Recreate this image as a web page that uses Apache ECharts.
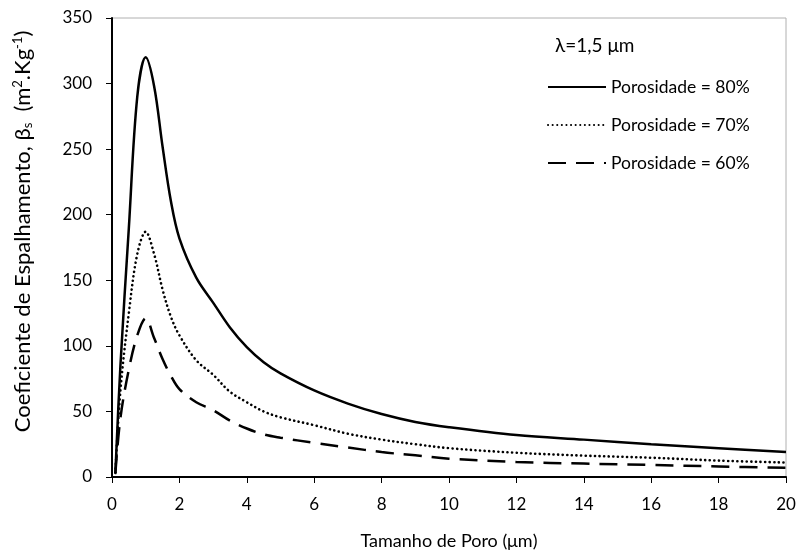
<!DOCTYPE html>
<html>
<head>
<meta charset="utf-8">
<script src="https://cdn.jsdelivr.net/npm/echarts@6/dist/echarts.min.js"></script>
<style>html,body{margin:0;padding:0;background:#fff;}#c{width:802px;height:560px;}</style>
</head>
<body>
<div id="c"></div>
<script>
var poreSize = [0.1, 0.25, 0.5, 0.75, 1, 1.25, 1.5, 1.75, 2, 2.5, 3, 3.5, 4, 4.5, 5, 6, 7, 8, 9, 10, 12, 14, 16, 18, 20];
var poro80 = [3, 85, 190, 290, 320, 298, 252, 210, 182, 152, 133, 114, 99, 87.5, 79, 66, 56, 48, 42, 38, 32, 28.5, 25, 22, 19];
var poro70 = [3, 66, 125, 170, 187, 170, 143, 122, 108, 89, 78, 65, 57, 50, 45.5, 39.5, 33, 28.5, 25, 22, 18.5, 16.3, 14.7, 12.5, 11];
var poro60 = [3, 45, 82, 108, 121, 106, 90, 77, 67, 57, 51, 43, 37, 32.5, 30, 26, 22.5, 19, 16.5, 14, 11.5, 10.2, 9.2, 8, 7];
var seriesNames = ['Porosidade = 80%', 'Porosidade = 70%', 'Porosidade = 60%'];
var xTicks = [0, 2, 4, 6, 8, 10, 12, 14, 16, 18, 20];
var yTicks = [0, 50, 100, 150, 200, 250, 300, 350];

function pairs(ys) { return poreSize.map(function (x, i) { return [x, ys[i]]; }); }
var FONT = 'Lato';
var chart = echarts.init(document.getElementById('c'), null, { renderer: 'canvas' });
var dashTypes = ['solid', [0.1, 4.5], [18, 10]];
var caps = ['butt', 'round', 'butt'];
var allData = [poro80, poro70, poro60];
chart.setOption({
  animation: false,
  textStyle: { fontFamily: FONT },
  grid: { left: 112, right: 16, top: 18, bottom: 83, show: true, borderColor: '#b0b0b0', borderWidth: 1, backgroundColor: 'transparent' },
  title: {
    text: 'λ=1,5 μm', left: 550, top: 31,
    textStyle: { fontFamily: FONT, fontSize: 19, fontWeight: 'normal', color: '#000' }
  },
  legend: {
    orient: 'vertical', left: 542, top: 73, itemWidth: 58, itemHeight: 14, itemGap: 20,
    data: seriesNames,
    itemStyle: { opacity: 0 },
    textStyle: { fontFamily: FONT, fontSize: 17.5, color: '#000', padding: [0, 0, 0, 0] }
  },
  xAxis: {
    type: 'value', min: xTicks[0], max: xTicks[xTicks.length - 1], interval: 2,
    name: 'Tamanho de Poro (μm)', nameLocation: 'middle', nameGap: 55,
    nameTextStyle: { fontFamily: FONT, fontSize: 18, color: '#000' },
    axisLine: { lineStyle: { color: '#000', width: 2 } },
    axisTick: { show: true, length: 6, lineStyle: { color: '#000', width: 1 } },
    axisLabel: { fontFamily: FONT, fontSize: 17, color: '#000', margin: 19 },
    splitLine: { show: false }
  },
  yAxis: {
    type: 'value', min: yTicks[0], max: yTicks[yTicks.length - 1], interval: 50,
    name: '{a|Coeficiente de Espalhamento, β}{s|s}{a|  (m}{p|2}{a|.Kg}{p|-1}{a|)}',
    nameLocation: 'middle', nameGap: 78,
    nameTextStyle: {
      fontFamily: FONT, color: '#000', padding: [0, 0, 0, 32],
      rich: {
        a: { fontFamily: FONT, fontSize: 22, color: '#000' },
        s: { fontFamily: FONT, fontSize: 13, color: '#000', padding: [10, 0, 0, 0] },
        p: { fontFamily: FONT, fontSize: 13, color: '#000', padding: [0, 0, 10, 0] }
      }
    },
    axisLine: { show: true, lineStyle: { color: '#000', width: 2 } },
    axisTick: { show: true, length: 6, lineStyle: { color: '#000', width: 1 } },
    axisLabel: { fontFamily: FONT, fontSize: 17, color: '#000', margin: 20 },
    splitLine: { show: false }
  },
  series: seriesNames.map(function (n, i) {
    return {
      name: n, type: 'line', smooth: 0.35, showSymbol: false, symbol: 'none',
      data: pairs(allData[i]),
      lineStyle: { color: '#000', width: i === 1 ? 2.6 : 2.5, type: dashTypes[i], cap: caps[i] },
      itemStyle: { color: '#000' }
    };
  })
});
</script>
</body>
</html>
